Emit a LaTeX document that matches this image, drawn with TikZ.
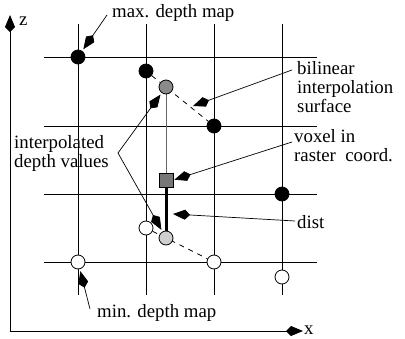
\documentclass[tikz,border=0pt]{standalone}
\usepackage{fontspec}
\setmainfont{Liberation Serif}
\newfontfamily\lblfont{Liberation Serif}
\usetikzlibrary{arrows.meta,backgrounds}
\definecolor{midgrey}{HTML}{8A8A8A}
\definecolor{boxgrey}{HTML}{777777}
\definecolor{raygrey}{HTML}{666666}
\definecolor{lightgrey}{HTML}{CFCFCF}
\begin{document}
\begin{tikzpicture}[x=1pt,y=-1pt,
  gridline/.style={line width=0.9pt,black},
  dot/.style={circle,draw=black,line width=0.8pt,minimum size=14pt,inner sep=0pt},
  maxdot/.style={dot,fill=black},
  mindot/.style={dot,fill=white},
  surfline/.style={line width=0.8pt,dash pattern=on 5pt off 5pt},
  pointer/.style={line width=0.7pt,-{Kite[length=17pt,width=10pt,inset=5pt]},shorten >=2pt},
  axisarrow/.style={line width=0.9pt,-{Kite[length=17pt,width=10pt,inset=5pt]}},
  lbl/.style={anchor=base west,inner sep=0pt,align=left,font=\lblfont\fontsize{18.8}{19}\selectfont}
]
\useasboundingbox (0,0) rectangle (405,338);

% sample points of the two depth maps
\node[maxdot] (m1) at (78,57) {};
\node[maxdot] (m2) at (146,71) {};
\node[maxdot] (m3) at (214,126) {};
\node[maxdot] (m4) at (282,194) {};
\node[mindot] (n1) at (78,262) {};
\node[mindot] (n2) at (146,228) {};
\node[mindot] (n3) at (214,262) {};
\node[mindot] (n4) at (282,277) {};

% interpolated values and the voxel
\node[dot,fill=midgrey] (gU) at (166,87) {};
\node[dot,fill=lightgrey] (gL) at (166,238) {};
\node[rectangle,draw=black,line width=0.8pt,fill=boxgrey,minimum size=14pt,inner sep=0pt] (vox) at (166,180) {};

\begin{pgfonlayer}{background}
  % raster grid
  \foreach \gx in {78,146,214,282}
    \draw[gridline] (\gx,24) -- (\gx,295);
  \foreach \gy in {57,126,194,262}
    \draw[gridline] (44,\gy) -- (317,\gy);
  % bilinear interpolation surfaces
  \draw[surfline] (m2) -- (m3);
  \draw[surfline] (n2) -- (n3);
  % ray through the voxel
  \draw[line width=1pt,raygrey] (gU) -- (vox);
\end{pgfonlayer}
\draw[line width=3pt,black] (vox) -- (gL);

% axes
\coordinate (O) at (10,331);
\coordinate (zt) at (10,15);
\coordinate (xt) at (303,331);
\draw[axisarrow] (O) -- (zt);
\draw[axisarrow] (O) -- (xt);
\node[lbl] (zl) at (19,25) {z};
\node[lbl] (xl) at (304,334) {x};

% labels (base = baseline of the last line)
\node[lbl] (tmax) at (112,17) {max. depth map};
\node[lbl] (tint) at (14,167) {interpolated\\depth values};
\node[lbl] (tbil) at (297,112) {bilinear\\interpolation\\surface};
\node[lbl] (tvox) at (294,161) {voxel in\\raster\ \ coord.};
\node[lbl] (tdist) at (297,228) {dist};
\node[lbl] (tmin) at (97,317) {min. depth map};

% pointers
\coordinate (pmax) at (107,15);
\coordinate (pint) at (118,153);
\coordinate (pbil) at (292,70);
\coordinate (sbil) at (193,106);
\coordinate (pvox) at (292,142);
\coordinate (pdist) at (295,221);
\coordinate (sdist) at (173,214);
\coordinate (pmin) at (90,309);
\draw[pointer] (pmax) -- (m1);
\draw[pointer] (pint) -- (gU);
\draw[pointer] (pint) -- (gL);
\draw[pointer,shorten >=0pt] (pbil) -- (sbil);
\draw[pointer,shorten >=1pt] (pvox) -- (vox.east);
\draw[pointer,shorten >=0pt] (pdist) -- (sdist);
\draw[pointer] (pmin) -- (n1);
\end{tikzpicture}
\end{document}
